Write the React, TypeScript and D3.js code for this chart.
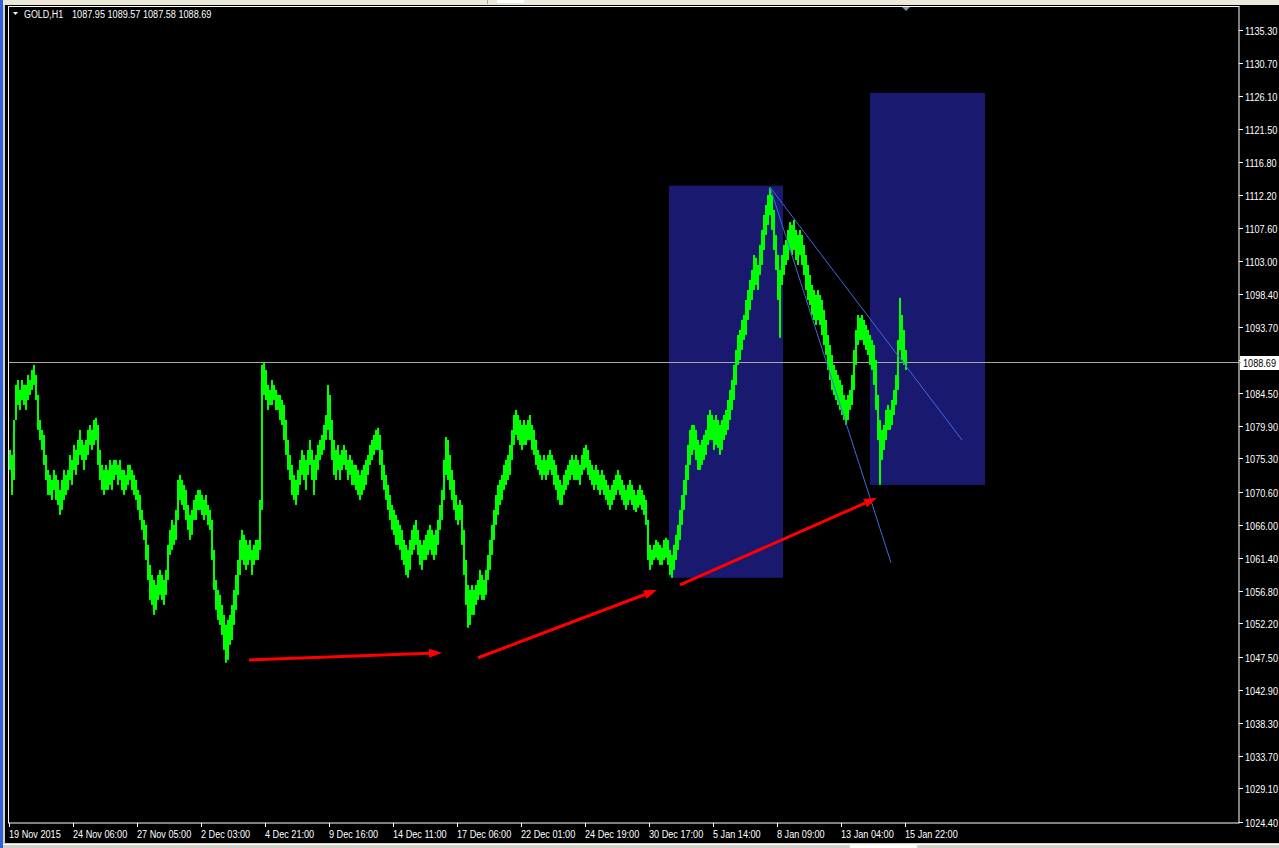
import React from 'react';
import * as d3 from 'd3';

// ---------- DATA ----------
const symbolTitle = 'GOLD,H1';
const ohlcText = '1087.95 1089.57 1087.58 1088.69';
const lastPrice = 1088.69;
const lastPriceLabel = '1088.69';

const priceTicks = [
  '1135.30', '1130.70', '1126.10', '1121.50', '1116.80', '1112.20', '1107.60', '1103.00',
  '1098.40', '1093.70', '1089.10', '1084.50', '1079.90', '1075.30', '1070.60', '1066.00',
  '1061.40', '1056.80', '1052.20', '1047.50', '1042.90', '1038.30', '1033.70', '1029.10', '1024.40',
];

const timeLabels = [
  '19 Nov 2015', '24 Nov 06:00', '27 Nov 05:00', '2 Dec 03:00', '4 Dec 21:00', '9 Dec 16:00',
  '14 Dec 11:00', '17 Dec 06:00', '22 Dec 01:00', '24 Dec 19:00', '30 Dec 17:00', '5 Jan 14:00',
  '8 Jan 09:00', '13 Jan 04:00', '15 Jan 22:00',
];
const timeLabelBars = [0, 64, 128, 192, 256, 320, 384, 448, 512, 576, 640, 704, 768, 832, 896];

// samples every 2 hourly bars, starting at bar 0
const hoursPerSample = 2;
const highs = [
  1076.5, 1075.8, 1080.7, 1085.6, 1086.3, 1084.9, 1086.3, 1085.6, 1085.6, 1087.0, 1086.3, 1087.7, 1088.4, 1087.0, 1084.2, 1080.7,
  1079.3, 1078.6, 1075.8, 1073.7, 1073.0, 1072.3, 1073.7, 1073.0, 1072.3, 1070.9, 1072.3, 1073.7, 1073.0, 1073.7, 1075.8, 1075.1,
  1077.2, 1076.5, 1077.9, 1079.3, 1077.9, 1077.2, 1077.9, 1079.3, 1080.0, 1079.3, 1080.7, 1081.0, 1080.0, 1076.5, 1074.4, 1073.7,
  1074.4, 1073.7, 1075.1, 1074.4, 1075.1, 1075.1, 1074.4, 1075.1, 1073.7, 1073.7, 1073.0, 1074.4, 1074.4, 1073.7, 1073.0, 1072.3,
  1070.9, 1070.2, 1068.1, 1066.7, 1066.0, 1063.2, 1060.4, 1059.0, 1058.3, 1057.6, 1059.0, 1059.7, 1059.0, 1058.3, 1059.7, 1063.2,
  1065.3, 1066.7, 1066.0, 1068.1, 1072.3, 1073.0, 1072.3, 1071.6, 1070.9, 1068.8, 1067.4, 1068.1, 1069.5, 1070.2, 1070.9, 1070.9,
  1070.2, 1069.5, 1070.2, 1068.8, 1068.1, 1066.7, 1062.5, 1058.3, 1056.9, 1056.2, 1054.8, 1053.4, 1052.0, 1052.7, 1053.4, 1054.8,
  1056.9, 1059.0, 1061.1, 1063.9, 1065.3, 1064.6, 1063.9, 1063.2, 1063.9, 1062.5, 1063.2, 1063.9, 1063.9, 1069.5, 1088.4, 1088.8,
  1087.7, 1085.6, 1084.9, 1086.3, 1085.6, 1084.9, 1084.2, 1084.2, 1083.5, 1082.8, 1080.7, 1077.9, 1075.8, 1074.4, 1073.0, 1072.3,
  1073.7, 1075.1, 1076.5, 1075.8, 1075.1, 1076.5, 1077.9, 1076.5, 1075.1, 1075.8, 1077.2, 1077.9, 1078.6, 1080.0, 1081.4, 1085.6,
  1084.2, 1080.7, 1077.9, 1076.5, 1077.2, 1075.8, 1076.5, 1077.2, 1076.5, 1075.1, 1075.8, 1075.1, 1074.4, 1074.4, 1073.7, 1073.0,
  1073.7, 1074.4, 1075.1, 1075.8, 1077.2, 1077.9, 1078.6, 1079.3, 1079.6, 1078.6, 1076.5, 1074.4, 1073.0, 1071.6, 1070.2, 1068.8,
  1068.1, 1067.4, 1066.7, 1066.0, 1065.3, 1063.9, 1063.2, 1062.5, 1063.9, 1065.3, 1066.0, 1066.7, 1065.3, 1063.9, 1063.2, 1063.9,
  1064.6, 1065.3, 1066.0, 1065.3, 1064.6, 1065.3, 1066.7, 1068.8, 1070.9, 1075.1, 1078.3, 1077.9, 1075.8, 1073.7, 1072.3, 1070.2,
  1068.8, 1069.5, 1068.8, 1065.3, 1061.1, 1057.6, 1056.9, 1057.6, 1056.9, 1057.6, 1058.3, 1059.7, 1059.0, 1058.3, 1059.7, 1061.8,
  1063.9, 1066.0, 1068.1, 1070.2, 1071.6, 1072.3, 1073.0, 1074.4, 1075.1, 1075.8, 1077.2, 1079.3, 1081.4, 1082.1, 1081.4, 1080.7,
  1080.0, 1080.7, 1080.0, 1080.7, 1081.4, 1080.0, 1079.3, 1077.9, 1076.5, 1075.8, 1075.1, 1075.8, 1075.1, 1075.8, 1076.5, 1075.8,
  1075.1, 1074.4, 1073.0, 1072.3, 1071.6, 1073.0, 1073.7, 1074.4, 1075.1, 1075.8, 1075.1, 1075.8, 1075.1, 1074.4, 1075.8, 1076.8,
  1077.2, 1076.5, 1075.1, 1074.4, 1073.7, 1074.4, 1073.7, 1073.0, 1073.7, 1073.0, 1072.3, 1071.6, 1070.9, 1071.6, 1072.3, 1073.0,
  1073.7, 1073.0, 1072.3, 1071.6, 1070.9, 1071.6, 1072.3, 1071.6, 1070.9, 1070.2, 1070.9, 1071.6, 1070.9, 1070.2, 1069.5, 1066.7,
  1063.2, 1062.5, 1063.2, 1063.9, 1063.6, 1063.2, 1062.8, 1063.9, 1064.2, 1063.9, 1062.5, 1061.8, 1063.2, 1064.6, 1066.0, 1068.1,
  1070.2, 1072.3, 1074.4, 1077.2, 1079.3, 1080.0, 1080.0, 1079.3, 1077.9, 1077.2, 1077.9, 1078.6, 1079.3, 1081.4, 1082.1, 1081.4,
  1080.7, 1081.4, 1080.7, 1080.0, 1080.7, 1081.4, 1082.1, 1083.5, 1084.9, 1086.3, 1088.4, 1090.5, 1092.6, 1093.3, 1094.7, 1095.4,
  1097.5, 1098.9, 1100.3, 1101.7, 1103.8, 1103.4, 1102.4, 1105.2, 1107.3, 1109.4, 1110.8, 1112.2, 1113.2, 1112.2, 1110.1, 1106.6,
  1103.8, 1101.7, 1103.8, 1105.2, 1105.9, 1107.3, 1108.4, 1108.0, 1108.7, 1107.3, 1106.6, 1107.3, 1106.6, 1105.2, 1103.8, 1102.4,
  1101.0, 1099.6, 1098.9, 1098.2, 1098.9, 1098.2, 1097.5, 1096.1, 1094.7, 1092.6, 1091.2, 1089.8, 1088.4, 1087.7, 1087.0, 1086.3,
  1085.6, 1084.2, 1083.5, 1084.2, 1084.9, 1087.0, 1090.5, 1093.3, 1095.4, 1095.0, 1095.4, 1094.7, 1094.0, 1093.3, 1092.6, 1091.9,
  1091.2, 1089.1, 1084.2, 1080.7, 1079.3, 1080.0, 1082.1, 1082.8, 1082.1, 1083.5, 1084.9, 1087.0, 1091.9, 1097.8, 1095.4, 1093.3,
  1090.5,
];
const lows = [
  1073.7, 1070.2, 1072.3, 1080.7, 1082.8, 1082.1, 1083.5, 1082.8, 1082.1, 1083.5, 1084.2, 1084.9, 1085.6, 1083.5, 1079.3, 1077.9,
  1076.5, 1074.4, 1072.3, 1070.2, 1070.2, 1069.5, 1070.9, 1069.5, 1068.8, 1067.4, 1068.1, 1069.5, 1070.2, 1070.9, 1072.3, 1071.6,
  1073.7, 1073.0, 1074.4, 1075.8, 1075.1, 1073.7, 1075.1, 1075.8, 1077.2, 1076.5, 1077.2, 1077.9, 1074.4, 1072.3, 1070.9, 1070.2,
  1070.9, 1070.9, 1071.6, 1070.9, 1072.3, 1073.0, 1071.6, 1072.3, 1070.9, 1070.2, 1070.9, 1071.6, 1072.3, 1070.9, 1070.2, 1069.5,
  1068.1, 1066.7, 1065.3, 1063.9, 1061.1, 1058.3, 1055.5, 1054.8, 1053.4, 1054.1, 1055.5, 1056.2, 1055.5, 1054.8, 1056.2, 1058.3,
  1061.8, 1062.5, 1063.2, 1063.9, 1066.7, 1069.5, 1068.8, 1068.1, 1066.7, 1065.3, 1063.9, 1064.6, 1066.7, 1066.7, 1068.1, 1068.1,
  1067.4, 1066.7, 1067.4, 1066.0, 1065.3, 1061.1, 1056.9, 1054.1, 1052.7, 1052.0, 1050.6, 1048.5, 1046.7, 1047.1, 1049.2, 1049.9,
  1052.0, 1054.1, 1056.2, 1059.0, 1061.1, 1060.4, 1059.7, 1060.4, 1061.1, 1059.0, 1060.4, 1061.1, 1061.1, 1062.5, 1068.1, 1084.2,
  1083.5, 1082.1, 1082.8, 1082.8, 1083.5, 1082.1, 1082.1, 1080.7, 1080.0, 1077.9, 1075.8, 1073.7, 1072.3, 1070.2, 1069.5, 1068.8,
  1070.2, 1071.6, 1073.0, 1072.3, 1070.9, 1073.0, 1074.4, 1072.3, 1070.2, 1072.3, 1073.7, 1075.1, 1075.8, 1076.5, 1077.9, 1079.3,
  1077.9, 1075.1, 1073.0, 1072.3, 1073.7, 1072.3, 1073.7, 1074.4, 1073.7, 1072.3, 1073.0, 1071.6, 1071.6, 1070.9, 1070.2, 1069.5,
  1070.2, 1070.9, 1071.6, 1073.0, 1074.4, 1075.1, 1075.8, 1076.5, 1076.5, 1074.4, 1072.3, 1070.9, 1069.5, 1068.1, 1066.7, 1065.3,
  1064.6, 1063.2, 1063.2, 1062.5, 1061.1, 1060.4, 1059.0, 1058.6, 1059.7, 1061.8, 1062.5, 1063.2, 1061.8, 1060.4, 1059.7, 1061.1,
  1061.1, 1061.8, 1062.5, 1061.8, 1061.1, 1061.8, 1063.2, 1065.3, 1066.7, 1069.5, 1073.0, 1072.3, 1070.9, 1069.5, 1068.1, 1066.7,
  1066.0, 1066.7, 1063.2, 1059.0, 1054.8, 1051.6, 1052.0, 1053.4, 1053.4, 1054.8, 1055.5, 1056.2, 1055.5, 1055.5, 1056.2, 1058.3,
  1059.7, 1061.8, 1063.9, 1066.0, 1067.4, 1068.8, 1069.5, 1070.9, 1071.6, 1072.3, 1073.0, 1075.1, 1077.2, 1078.6, 1077.9, 1077.2,
  1076.5, 1077.2, 1077.2, 1077.9, 1077.9, 1076.5, 1075.8, 1074.4, 1073.7, 1073.0, 1072.3, 1073.0, 1072.3, 1073.0, 1073.7, 1073.0,
  1071.6, 1070.9, 1069.5, 1068.8, 1068.8, 1070.2, 1070.9, 1071.6, 1072.3, 1073.0, 1072.3, 1072.3, 1072.3, 1071.6, 1073.0, 1073.7,
  1074.0, 1073.0, 1072.3, 1071.6, 1070.9, 1071.6, 1070.9, 1070.2, 1070.9, 1070.2, 1069.5, 1068.8, 1068.1, 1068.8, 1069.5, 1070.2,
  1070.9, 1070.2, 1069.5, 1068.8, 1068.1, 1068.8, 1069.5, 1068.8, 1068.1, 1067.8, 1068.4, 1068.8, 1068.1, 1067.4, 1066.0, 1061.1,
  1059.7, 1060.4, 1061.1, 1061.4, 1061.1, 1060.4, 1060.4, 1061.1, 1061.4, 1060.4, 1059.0, 1058.6, 1059.7, 1061.1, 1062.5, 1063.9,
  1066.0, 1068.1, 1070.2, 1072.3, 1074.4, 1075.8, 1076.5, 1075.1, 1073.7, 1073.7, 1074.4, 1075.1, 1075.8, 1077.2, 1077.9, 1077.9,
  1076.5, 1077.2, 1076.8, 1075.8, 1076.5, 1077.9, 1078.6, 1079.3, 1080.7, 1082.1, 1083.5, 1085.6, 1088.4, 1089.1, 1090.5, 1091.9,
  1092.6, 1094.7, 1096.1, 1097.5, 1098.9, 1099.6, 1098.9, 1101.0, 1102.4, 1104.5, 1106.6, 1108.0, 1109.4, 1107.3, 1104.5, 1101.7,
  1097.5, 1092.2, 1099.6, 1101.0, 1102.4, 1103.1, 1104.5, 1103.8, 1104.5, 1103.1, 1102.4, 1103.8, 1102.4, 1101.0, 1098.9, 1097.5,
  1096.8, 1095.4, 1094.7, 1094.0, 1094.7, 1094.0, 1092.6, 1091.2, 1089.8, 1087.7, 1086.3, 1084.9, 1084.2, 1083.5, 1082.8, 1082.1,
  1081.4, 1080.7, 1080.0, 1080.7, 1082.1, 1082.8, 1084.9, 1088.4, 1091.2, 1091.9, 1091.9, 1091.2, 1090.5, 1089.8, 1088.4, 1087.7,
  1085.6, 1082.1, 1077.9, 1071.6, 1075.1, 1076.5, 1077.9, 1079.3, 1079.3, 1080.0, 1081.4, 1082.8, 1084.9, 1090.5, 1089.1, 1088.4,
  1087.7,
];

// drawn objects on the chart (bar index / price)
const boxStartBar = [660, 861];
const boxEndBar = [774, 976];
const boxTopPrice = [1113.5, 1126.5];
const boxBottomPrice = [1058.6, 1071.6];

const trendStartBar = [761, 761];
const trendStartPrice = [1113.3, 1113.3];
const trendEndBar = [953, 882];
const trendEndPrice = [1077.9, 1060.7];

const arrowStartBar = [240, 469, 671];
const arrowStartPrice = [1047.1, 1047.4, 1057.6];
const arrowEndBar = [433, 648, 868];
const arrowEndPrice = [1048.1, 1056.9, 1069.8];

// ---------- CHART ----------
const W = 1279;
const H = 848;
const plotL = 8;
const plotR = 1239;
const plotT = 6;
const plotB = 823;

const FONT = "'Liberation Sans', Arial, sans-serif";
const SX = 0.83; // horizontal squeeze to mimic the narrow bitmap UI font

function T({ x, y, children, fill = '#ffffff', sx = SX }: { x: number; y: number; children: React.ReactNode; fill?: string; sx?: number }) {
  return (
    <text transform={`translate(${x},${y}) scale(${sx},1)`} fill={fill} fontSize={11}>
      {children}
    </text>
  );
}

export default function App() {
  const x = d3.scaleLinear().domain([0, plotR - 9]).range([9, plotR]);
  const y = d3.scaleLinear().domain([1024.4, 1135.3]).range([822, 30]);

  const bars = highs.map((h, i) => ({ t: i * hoursPerSample, h, l: lows[i] }));

  const arrows = arrowStartBar.map((b, i) => {
    const x1 = x(b), y1 = y(arrowStartPrice[i]);
    const x2 = x(arrowEndBar[i]), y2 = y(arrowEndPrice[i]);
    const len = Math.hypot(x2 - x1, y2 - y1);
    const ux = (x2 - x1) / len, uy = (y2 - y1) / len;
    const hl = 13, hw = 4.5;
    const bx = x2 - ux * hl, by = y2 - uy * hl;
    const head = [
      [x2, y2],
      [bx - uy * hw, by + ux * hw],
      [bx + uy * hw, by - ux * hw],
    ];
    return { x1, y1, bx, by, head };
  });

  const lastY = Math.round(y(lastPrice)) - 0.5;

  return (
    <svg
      width={W}
      height={H}
      style={{ position: 'fixed', left: 0, top: 0, display: 'block' }}
      fontFamily={FONT}
    >
      {/* window chrome */}
      <rect x={0} y={0} width={W} height={H} fill="#d4d0c8" />
      <rect x={0} y={0} width={W} height={5} fill="#ece9d8" />
      <line x1={487.5} y1={0} x2={487.5} y2={4} stroke="#aca899" />
      <rect x={497} y={0} width={27} height={3} fill="#ffffff" />
      <rect x={0} y={0} width={3} height={H} fill="#2f64d8" />
      <rect x={5} y={5} width={W - 5} height={838} fill="#000000" />
      <line x1={3} y1={844.5} x2={W} y2={844.5} stroke="#ffffff" />
      <rect x={850} y={845} width={67} height={3} fill="#ffffff" />

      {/* drawn rectangles */}
      {boxStartBar.map((b, i) => (
        <rect
          key={'box' + i}
          x={x(b)}
          y={y(boxTopPrice[i])}
          width={x(boxEndBar[i]) - x(b)}
          height={y(boxBottomPrice[i]) - y(boxTopPrice[i])}
          fill="#191970"
        />
      ))}

      {/* last price line */}
      <line x1={plotL} x2={plotR} y1={lastY} y2={lastY} stroke="#a8a8a8" strokeWidth={1} />

      {/* price bars */}
      <g fill="#00ff00">
        {bars.map((d, i) => (
          <rect
            key={i}
            x={x(d.t)}
            y={y(d.h)}
            width={x(d.t + hoursPerSample) - x(d.t)}
            height={Math.max(1, y(d.l) - y(d.h))}
          />
        ))}
      </g>

      {/* trend lines */}
      {trendStartBar.map((b, i) => (
        <line
          key={'tr' + i}
          x1={x(b)}
          y1={y(trendStartPrice[i])}
          x2={x(trendEndBar[i])}
          y2={y(trendEndPrice[i])}
          stroke="#4169e1"
          strokeWidth={1}
        />
      ))}

      {/* arrows */}
      {arrows.map((a, i) => (
        <g key={'ar' + i}>
          <line x1={a.x1} y1={a.y1} x2={a.bx} y2={a.by} stroke="#ff0000" strokeWidth={3} />
          <polygon points={a.head.map((p) => p.join(',')).join(' ')} fill="#ff0000" />
        </g>
      ))}

      {/* plot frame */}
      <rect
        x={plotL + 0.5}
        y={plotT + 0.5}
        width={plotR - plotL - 0.5}
        height={plotB - plotT - 0.5}
        fill="none"
        stroke="#ffffff"
        strokeWidth={1}
      />

      {/* shift marker */}
      <polygon points={`${x(893)},7 ${x(901)},7 ${x(897)},11`} fill="#8090a8" />

      {/* header */}
      <polygon points="13,12 18,12 15.5,15" fill="#ffffff" />
      <T x={24} y={18} sx={0.81}>{symbolTitle}</T>
      <T x={72} y={18}>{ohlcText}</T>

      {/* price axis */}
      <g>
        {priceTicks.map((t) => {
          const yy = Math.round(y(+t)) + 0.5;
          return (
            <g key={t}>
              <line x1={plotR} x2={plotR + 4} y1={yy} y2={yy} stroke="#ffffff" />
              <T x={1245} y={yy + 4}>{t}</T>
            </g>
          );
        })}
      </g>
      <rect x={1240} y={lastY - 6.5} width={39} height={14} fill="#ffffff" />
      <line x1={plotR} x2={1241} y1={lastY} y2={lastY} stroke="#a8a8a8" />
      <T x={1243} y={lastY + 4} fill="#000000">{lastPriceLabel}</T>

      {/* time axis */}
      <g>
        {timeLabelBars.map((b, i) => {
          const xx = Math.round(x(b)) + 0.5;
          return (
            <g key={b}>
              <line x1={xx} x2={xx} y1={plotB} y2={plotB + 4} stroke="#ffffff" />
              <T x={xx - 0.5} y={838}>{timeLabels[i]}</T>
            </g>
          );
        })}
      </g>
    </svg>
  );
}
